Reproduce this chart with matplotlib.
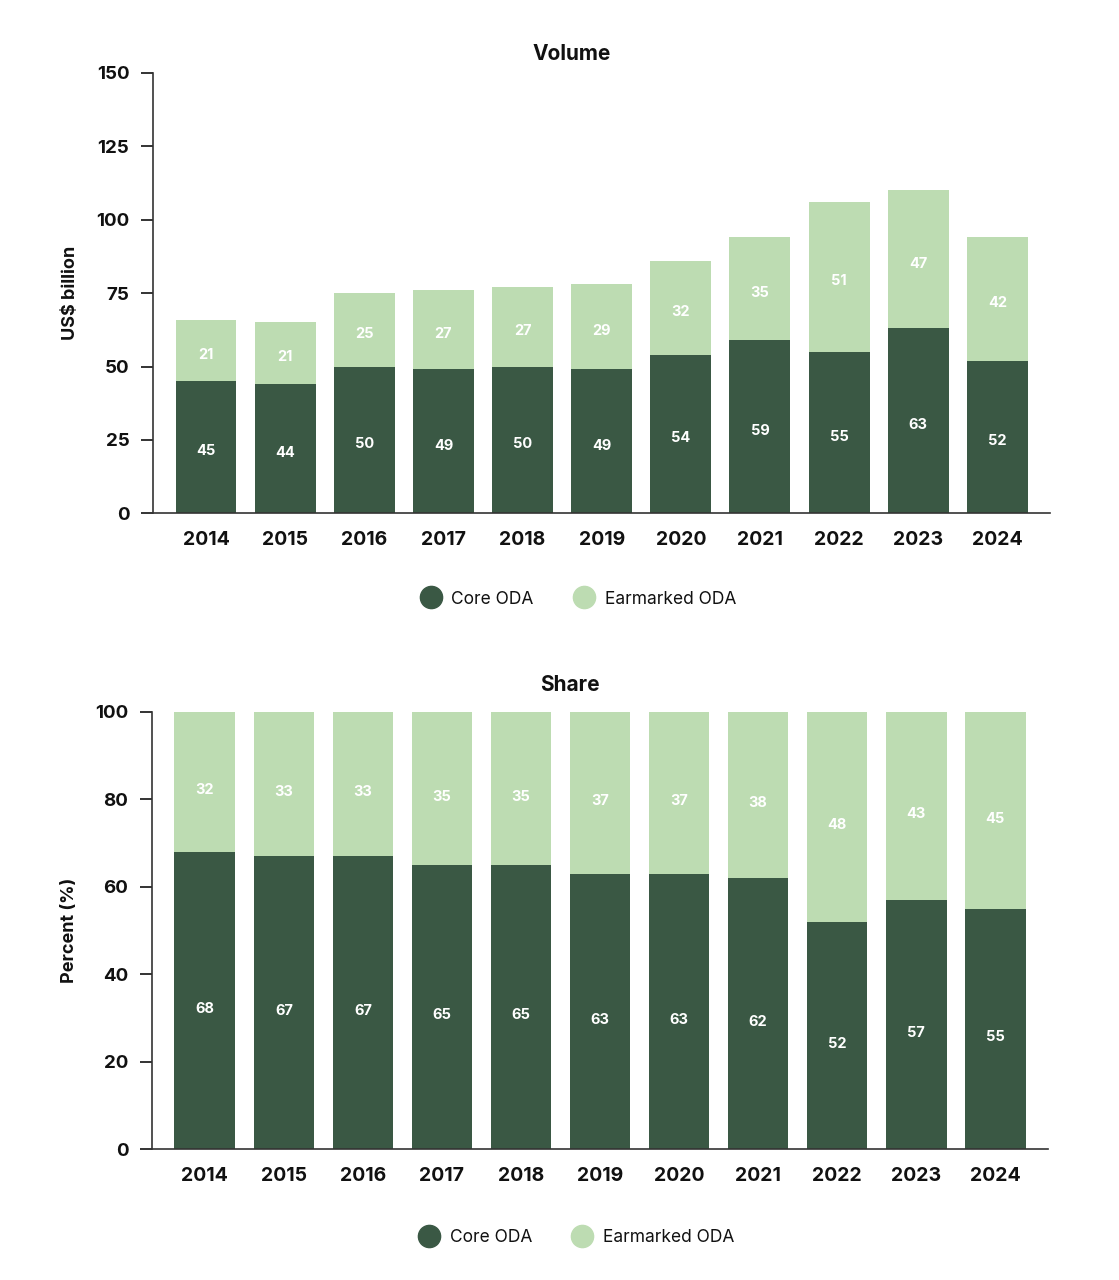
import matplotlib
matplotlib.use("Agg")
import matplotlib.pyplot as plt
from matplotlib.lines import Line2D
import numpy as np

plt.rcParams['font.family'] = ['Inter', 'DejaVu Sans']

years = ["2014", "2015", "2016", "2017", "2018", "2019", "2020", "2021", "2022", "2023", "2024"]
core_volume = [45, 44, 50, 49, 50, 49, 54, 59, 55, 63, 52]
earmarked_volume = [21, 21, 25, 27, 27, 29, 32, 35, 51, 47, 42]
core_share = [68, 67, 67, 65, 65, 63, 63, 62, 52, 57, 55]
earmarked_share = [32, 33, 33, 35, 35, 37, 37, 38, 48, 43, 45]

CORE = "#3a5844"
EAR = "#bddcb2"
TXT = "#111111"

fig = plt.figure(figsize=(11.19, 12.8), dpi=100)
CX = 0.467  # horizontal centre of title/legend, as axes fraction

def draw(ax, core, ear, ylim, yticks, ylabel, title, title_y, label_off, leg_y):
    x = np.arange(len(years))
    w = 0.77
    ax.bar(x, core, width=w, color=CORE, linewidth=0)
    ax.bar(x, ear, bottom=core, width=w, color=EAR, linewidth=0)
    for xi, c, e in zip(x, core, ear):
        ax.annotate(str(c), (xi, c / 2), xytext=(0, -label_off), textcoords='offset points',
                    ha='center', va='center', color='white', fontsize=10.5, fontweight='bold')
        ax.annotate(str(e), (xi, c + e / 2), xytext=(0, -label_off), textcoords='offset points',
                    ha='center', va='center', color='white', fontsize=10.5, fontweight='bold')
    ax.set_xlim(-0.67, 10.67)
    ax.set_ylim(*ylim)
    ax.set_yticks(yticks)
    ax.set_xticks(x)
    ax.set_xticklabels(years)
    ax.tick_params(axis='x', length=0, pad=13, labelsize=14, colors=TXT)
    ax.tick_params(axis='y', length=9, width=1.2, pad=8, labelsize=13.5, colors=TXT)
    for lab in ax.get_xticklabels() + ax.get_yticklabels():
        lab.set_fontweight('bold')
    for s in ['top', 'right']:
        ax.spines[s].set_visible(False)
    for s in ['left', 'bottom']:
        ax.spines[s].set_color('#333333')
        ax.spines[s].set_linewidth(1.2)
    ax.set_ylabel(ylabel, fontsize=13, fontweight='bold', color=TXT, labelpad=12)
    ax.text(CX, title_y, title, transform=ax.transAxes, ha='center', va='center',
            fontsize=15, fontweight='bold', color=TXT)
    handles = [Line2D([], [], marker='o', linestyle='', markersize=16, color=CORE, label='Core ODA'),
               Line2D([], [], marker='o', linestyle='', markersize=16, color=EAR, label='Earmarked ODA')]
    leg = ax.legend(handles=handles, loc='upper center', bbox_to_anchor=(CX + 0.003, leg_y), ncol=2,
                    frameon=False, fontsize=12.5, handletextpad=0.2, columnspacing=1.9)
    for t in leg.get_texts():
        t.set_color(TXT)

ax1 = fig.add_axes([0.1367, 0.599, 0.802, 0.344])
draw(ax1, core_volume, earmarked_volume, (0, 150), [0, 25, 50, 75, 100, 125, 150],
     "US$ billion", "Volume", 1.0 + 19 / 440, 3, -0.14)

ax2 = fig.add_axes([0.1358, 0.1023, 0.8008, 0.3415])
draw(ax2, core_share, earmarked_share, (0, 100), [0, 20, 40, 60, 80, 100],
     "Percent (%)", "Share", 1.0 + 27 / 437, 6, -0.147)

fig.savefig("out.png", dpi=100)
